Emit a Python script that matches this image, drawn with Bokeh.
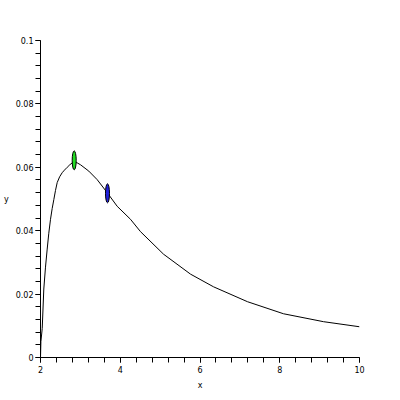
from bokeh.plotting import figure
from bokeh.models import Range1d, FixedTicker
from bokeh.embed import file_html
from bokeh.resources import INLINE

# curve samples
xs = [2.0, 2.01, 2.043, 2.083, 2.125, 2.168, 2.208, 2.251, 2.293, 2.334, 2.376, 2.419,
      2.48, 2.544, 2.60, 2.67, 2.735, 2.795, 2.835, 2.92, 3.003, 3.211, 3.422, 3.673, 3.923, 4.257,
      4.508, 5.085, 5.762, 6.339, 7.191, 8.094, 9.097, 10.0]
ys = [0.0, 0.005, 0.0091, 0.0216, 0.0285, 0.0342, 0.0392, 0.0436, 0.0470, 0.0498, 0.0527, 0.0552,
      0.0570, 0.0583, 0.0591, 0.0600, 0.0608, 0.0614, 0.0617, 0.0614, 0.0608, 0.0588, 0.0561, 0.0520,
      0.0477, 0.0436, 0.0397, 0.0326, 0.0263, 0.0223, 0.0176, 0.0138, 0.0113, 0.0097]

# marked points
mark_x = [2.845, 3.68]
mark_y = [0.0622, 0.0518]
mark_colors = ["#22dd22", "#2222dd"]

x_ticks = [2, 4, 6, 8, 10]
y_ticks = [0, 0.02, 0.04, 0.06, 0.08, 0.1]
y_tick_labels = {0: "0", 0.02: "0.02", 0.04: "0.04", 0.06: "0.06", 0.08: "0.08", 0.1: "0.1"}

p = figure(width=392, height=392, output_backend="svg", toolbar_location=None,
           x_range=Range1d(2, 10), y_range=Range1d(0, 0.1),
           min_border_left=40, min_border_top=40, min_border_right=33, min_border_bottom=33)
p.outline_line_color = None
p.grid.visible = False
p.background_fill_color = "white"

font = "DejaVu Sans"
for ax in (p.xaxis[0], p.yaxis[0]):
    ax.major_tick_out = 5
    ax.major_tick_in = 0
    ax.minor_tick_out = 5
    ax.minor_tick_in = 0
    ax.axis_line_color = "black"
    ax.major_tick_line_color = "black"
    ax.minor_tick_line_color = "black"
    ax.major_label_text_font = font
    ax.major_label_text_font_size = "8px"
    ax.major_label_text_color = "black"
    ax.axis_label_text_font = font
    ax.axis_label_text_font_size = "8px"
    ax.axis_label_text_font_style = "normal"
    ax.axis_label_text_color = "black"

p.xaxis.ticker = FixedTicker(ticks=x_ticks, minor_ticks=[2 + 0.4 * i for i in range(21)])
p.yaxis.ticker = FixedTicker(ticks=y_ticks, minor_ticks=[0.004 * i for i in range(26)])
p.yaxis.major_label_overrides = y_tick_labels
p.xaxis.major_label_standoff = 3
p.yaxis.major_label_standoff = 2

p.xaxis.axis_label = "x"
p.xaxis.axis_label_standoff = 5
p.yaxis.axis_label = "y"
p.yaxis.axis_label_orientation = "horizontal"
p.yaxis.axis_label_standoff = 4

p.line(xs, ys, line_color="black", line_width=1)
p.ellipse(x=mark_x, y=mark_y, width=4, height=19, width_units="screen", height_units="screen",
          fill_color=mark_colors, line_color="black", line_width=1)

open("out.html", "w").write(file_html(p, INLINE))
